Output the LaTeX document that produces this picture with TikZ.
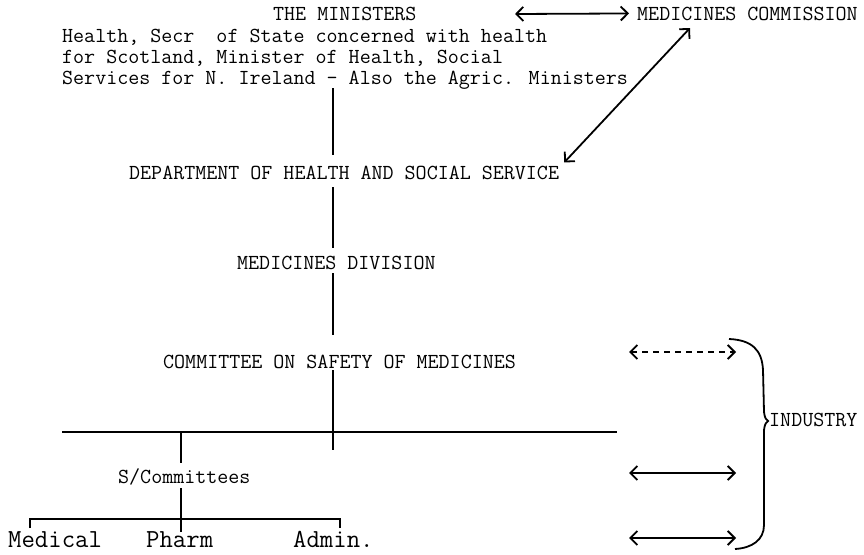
\documentclass[tikz,border=0pt]{standalone}
\usepackage{fontspec}
\usetikzlibrary{arrows.meta,calc}
\tikzset{
  txt/.style={font=\ttfamily\fontsize{21.4}{24}\selectfont, inner sep=0pt, anchor=base west},
  big/.style={txt, font=\ttfamily\fontsize{26}{29}\selectfont},
  link/.style={line width=1.8pt},
  both/.style={link, {Straight Barb[length=7pt,width=14pt]}-{Straight Barb[length=7pt,width=14pt]}},
  dashline/.style={dash pattern=on 6pt off 5pt},
}
\begin{document}
\begin{tikzpicture}[x=1pt,y=-1pt]
\useasboundingbox (0,0) rectangle (864,554);
% top block
\node[txt] (ministers) at (273,20) {THE MINISTERS};
\node[txt] (commission) at (637,20) {MEDICINES COMMISSION};
\foreach \n/\y/\t in {1/42/{Health, Secr\ \ of State concerned with health},2/63/{for Scotland, Minister of Health, Social},3/84/{Services for N. Ireland - Also the Agric. Ministers}}
  \node[txt] (detail\n) at (62,\y) {\t};
% main line
\node[txt] (dept) at (129,179) {DEPARTMENT OF HEALTH AND SOCIAL SERVICE};
\node[txt] (division) at (237,269) {MEDICINES DIVISION};
\node[txt] (csm) at (163,368) {COMMITTEE ON SAFETY OF MEDICINES};
\node[txt] (subcom) at (118,483) {S/Committees};
\node[big] (medical) at (8,547) {Medical};
\node[big] (pharm) at (146,547) {Pharm};
\node[big] (admin) at (293,547) {Admin.};
\node[txt] (industry) at (769,426) {INDUSTRY};
\coordinate (spine) at (333,0);
\coordinate (bar) at (62,432);
\coordinate (barend) at (617,432);
\coordinate (fork) at (181,432);
\coordinate (tickl) at (30,528);
\coordinate (tickr) at (340,528);
\coordinate (minright) at (515,14);
% verticals
\draw[link] ($(detail3.base -| spine)+(0,4)$) -- ($(dept.base -| spine)+(0,-24)$);
\draw[link] ($(dept.base -| spine)+(0,8)$) -- ($(division.base -| spine)+(0,-21)$);
\draw[link] ($(division.base -| spine)+(0,4)$) -- ($(csm.base -| spine)+(0,-33)$);
\draw[link] ($(csm.base -| spine)+(0,2)$) -- ($(csm.base -| spine)+(0,82)$);
\draw[link] (bar) -- (barend);
\draw[link] (fork) -- ($(subcom.base -| fork)+(0,-20)$);
\draw[link] ($(subcom.base -| fork)+(0,5)$) -- ($(pharm.base -| fork)+(0,-15)$);
\draw[link] (tickl) -- (tickl |- 0,519) -- (tickr |- 0,519) -- (tickr);
% arrows
\draw[both] (minright) -- ($(commission.west)+(-8,0)$);
\draw[both] ($(dept.east)+(5,-10)$) -- ($(commission.base west)+(53,8)$);
\foreach \y/\s in {352/dashline,473/solid,538/solid}
  \draw[both,\s] (629,\y) -- (736,\y);
% brace
\draw[link] (729,339) .. controls (752,340) and (762,350) .. (763,370) -- (764,412) .. controls (765,418) .. (768,421) .. controls (765,424) .. (764,430) -- (764,525) .. controls (764,540) and (752,548) .. (735,549);
\end{tikzpicture}
\end{document}
